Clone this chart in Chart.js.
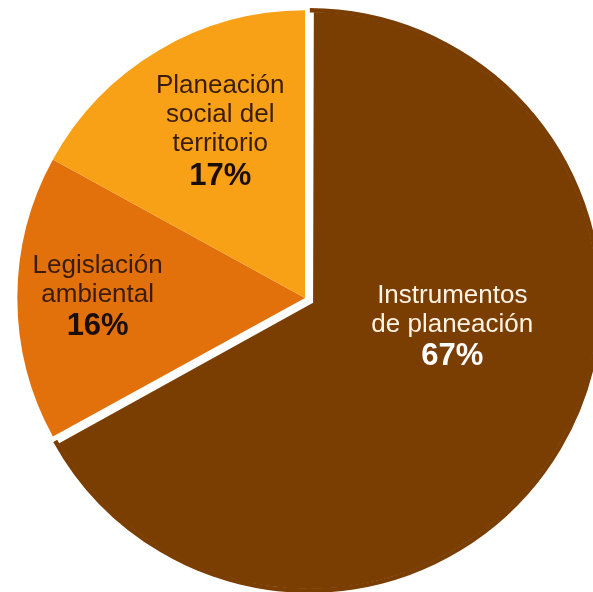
<!DOCTYPE html>
<html>
<head>
<meta charset="utf-8">
<script src="https://cdn.jsdelivr.net/npm/chart.js@4"></script>
<style>
  html, body { margin: 0; padding: 0; background: #fff; }
  canvas { display: block; }
</style>
</head>
<body>
<canvas id="pieCanvas" width="593" height="592"></canvas>
<script>
// data
var categories = [['Instrumentos', 'de planeación'], ['Legislación', 'ambiental'], ['Planeación', 'social del', 'territorio']];
var shares = [67, 16, 17];
var sliceColors = ['#7B3E02', '#E2710C', '#F8A116'];

// where each label sits inside its slice (fraction of angle, fraction of radius)
var labelPlace = [
  { a: 0.415, r: 0.505, name: '#FFF4E4', pct: '#FFFFFF' },
  { a: 0.51, r: 0.72, name: '#3A1C0C', pct: '#1A0E06' },
  { a: 0.56, r: 0.65, name: '#3A1C0C', pct: '#1A0E06' }
];

var sliceLabels = {
  id: 'sliceLabels',
  afterDatasetsDraw: function (chart) {
    var ctx = chart.ctx;
    var meta = chart.getDatasetMeta(0);
    meta.data.forEach(function (arc, i) {
      var p = labelPlace[i];
      var st = arc.startAngle, en = arc.endAngle;
      var half = (st + en) / 2;
      // ArcElement moves an offset slice by offset/4 along its middle
      var shift = (arc.options.offset || 0) / 4;
      var cx = arc.x + Math.cos(half) * shift;
      var cy = arc.y + Math.sin(half) * shift;
      var ang = st + (en - st) * p.a;
      var rr = arc.outerRadius * p.r;
      var x = cx + Math.cos(ang) * rr;
      var y = cy + Math.sin(ang) * rr;

      var lines = categories[i];
      var total = (lines.length - 1) * 29 + 32;
      var top = y - total / 2;
      ctx.save();
      ctx.textAlign = 'center';
      ctx.textBaseline = 'middle';
      ctx.font = '26px "Liberation Sans", Arial, sans-serif';
      ctx.fillStyle = p.name;
      lines.forEach(function (t, k) {
        ctx.fillText(t, x, top + k * 29);
      });
      ctx.font = 'bold 31px "Liberation Sans", Arial, sans-serif';
      ctx.fillStyle = p.pct;
      ctx.fillText(shares[i] + '%', x, top + (lines.length - 1) * 29 + 32);
      ctx.restore();
    });
  }
};

var context = document.getElementById('pieCanvas').getContext('2d');
var pie = new Chart(context, {
  type: 'pie',
  data: {
    labels: categories.map(function (c) { return c.join(' '); }),
    datasets: [{
      data: shares,
      backgroundColor: sliceColors,
      borderColor: '#FFFFFF',
      borderWidth: [4, 0, 0],
      borderAlign: 'inner',
      borderJoinStyle: 'miter',
      offset: [19, 0, 0],
      radius: 288,
      clip: false
    }]
  },
  options: {
    responsive: false,
    animation: false,
    layout: { padding: { left: 17, top: 4, right: 0, bottom: 0 } },
    plugins: {
      legend: { display: false },
      tooltip: { enabled: false }
    }
  },
  plugins: [sliceLabels]
});
</script>
</body>
</html>
